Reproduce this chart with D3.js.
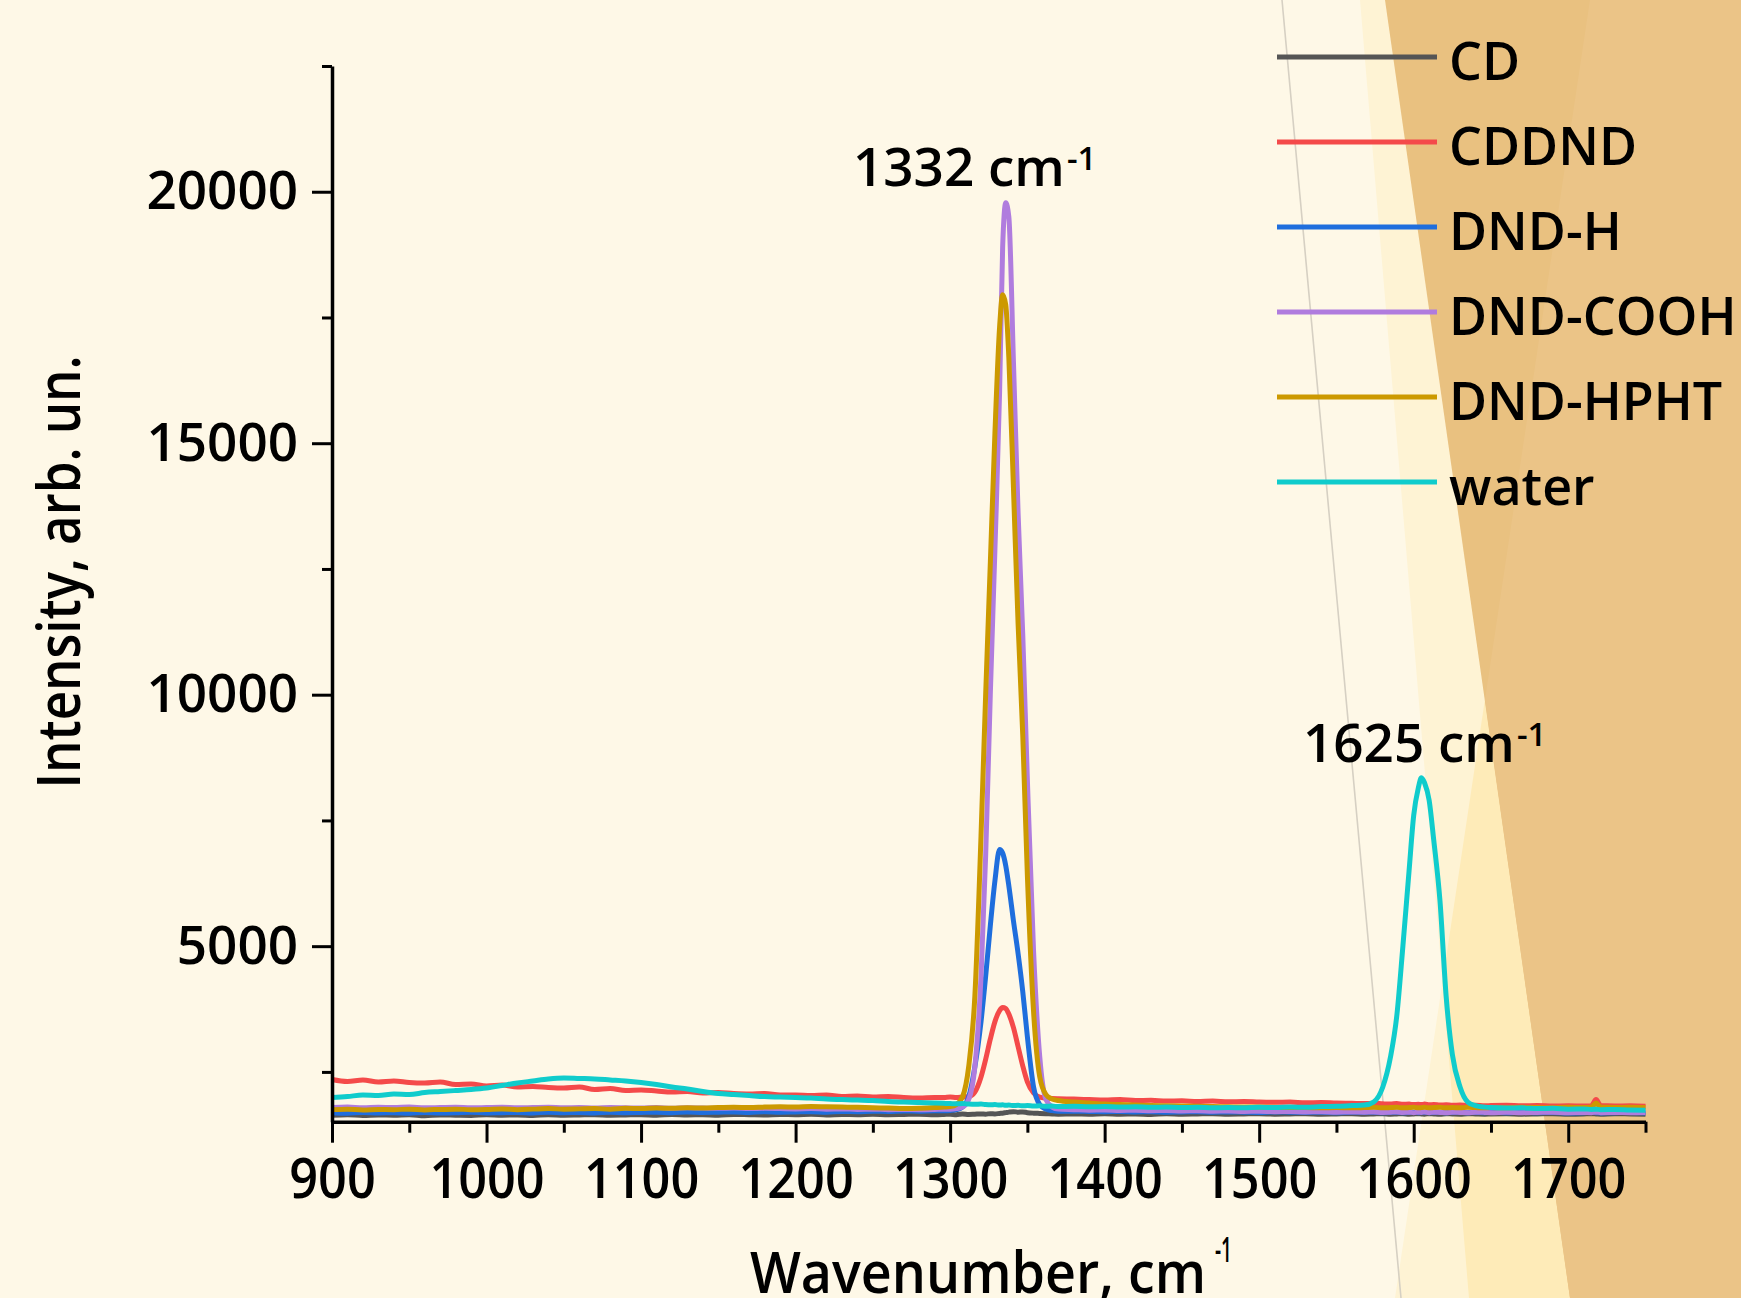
<!DOCTYPE html>
<html>
<head>
<meta charset="utf-8">
<script src="https://cdn.jsdelivr.net/npm/d3@7"></script>
<style>
  body { margin: 0; background: #fef8e7; }
  svg { display: block; font-family: "Open Sans", "Noto Sans", sans-serif; font-weight: 600; }
</style>
</head>
<body>
<script>
// wavenumber grid shared by all spectra (denser around the peaks)
var wavenumber = [
  900, 910, 920, 930, 940, 950, 960, 970, 980, 990, 1000, 1010, 1020, 1030, 1040, 1050, 1060, 1070, 1080, 1090,
  1100, 1110, 1120, 1130, 1140, 1150, 1160, 1170, 1180, 1190, 1200, 1210, 1220, 1230, 1240, 1250, 1260, 1270, 1280, 1290,
  1296, 1300, 1304, 1308, 1312, 1316, 1320, 1323, 1326, 1329, 1332, 1334, 1336, 1338, 1341, 1344, 1347, 1350, 1354, 1358, 1362, 1366, 1370,
  1380, 1390, 1400, 1410, 1420, 1430, 1440, 1450, 1460, 1470, 1480, 1490, 1500, 1510, 1520, 1530, 1540, 1550, 1560,
  1568, 1574, 1580, 1585, 1589, 1593, 1597, 1600, 1603, 1605, 1607, 1610, 1613, 1617, 1621, 1625, 1630, 1635, 1640, 1646,
  1650, 1660, 1670, 1680, 1690, 1700, 1710, 1715, 1718, 1721, 1730, 1740, 1750
];

var cd = [
  1640, 1650, 1635, 1645, 1640, 1650, 1630, 1645, 1640, 1635, 1650, 1640, 1645, 1635, 1650, 1640, 1645, 1650, 1640, 1645,
  1650, 1640, 1655, 1645, 1650, 1640, 1655, 1650, 1645, 1655, 1650, 1660, 1645, 1655, 1650, 1660, 1650, 1655, 1660, 1650,
  1655, 1660, 1650, 1665, 1655, 1660, 1665, 1660, 1670, 1665, 1675, 1680, 1690, 1700, 1710, 1700, 1705, 1690, 1680, 1675, 1670, 1665, 1660,
  1665, 1660, 1670, 1660, 1665, 1655, 1670, 1660, 1665, 1670, 1660, 1665, 1670, 1660, 1665, 1670, 1660, 1665, 1670,
  1660, 1665, 1670, 1660, 1665, 1670, 1660, 1665, 1670, 1665, 1660, 1670, 1665, 1660, 1670, 1665, 1660, 1670, 1665, 1660,
  1665, 1670, 1660, 1665, 1670, 1660, 1665, 1670, 1665, 1660, 1670, 1665, 1660
];

var cddnd = [
  2350, 2310, 2340, 2300, 2320, 2290, 2280, 2300, 2250, 2260, 2220, 2240, 2200, 2210, 2190, 2180, 2200, 2150, 2170, 2130,
  2140, 2120, 2100, 2110, 2080, 2090, 2070, 2060, 2070, 2040, 2040, 2030, 2040, 2010, 2020, 2000, 2010, 1990, 1980, 1990,
  1990, 2000, 1990, 2000, 2010, 2100, 2400, 2750, 3150, 3500, 3720, 3780, 3760, 3650, 3380, 3000, 2620, 2300, 2080, 2000, 1980, 1970, 1965,
  1960, 1950, 1940, 1950, 1930, 1935, 1920, 1925, 1910, 1920, 1905, 1910, 1900, 1895, 1900, 1885, 1890, 1880, 1875,
  1870, 1875, 1865, 1860, 1870, 1855, 1860, 1850, 1855, 1850, 1860, 1845, 1850, 1840, 1845, 1835, 1840, 1830, 1835, 1825,
  1830, 1835, 1825, 1830, 1820, 1825, 1820, 1830, 1950, 1830, 1820, 1825, 1815
];

var dndH = [
  1690, 1680, 1695, 1685, 1690, 1680, 1695, 1685, 1690, 1700, 1685, 1690, 1695, 1685, 1700, 1690, 1695, 1685, 1700, 1690,
  1695, 1700, 1690, 1705, 1695, 1700, 1705, 1695, 1710, 1700, 1705, 1710, 1700, 1715, 1710, 1720, 1715, 1725, 1720, 1730,
  1730, 1735, 1750, 1800, 2000, 2600, 3500, 4400, 5400, 6300, 6920, 6850, 6600, 6200, 5500, 4850, 4100, 3200, 2200, 1850, 1760, 1730, 1720,
  1720, 1715, 1710, 1715, 1705, 1710, 1700, 1705, 1710, 1700, 1705, 1700, 1695, 1705, 1700, 1695, 1700, 1690, 1700,
  1695, 1700, 1690, 1695, 1700, 1690, 1695, 1700, 1690, 1695, 1700, 1690, 1695, 1700, 1690, 1695, 1700, 1690, 1695, 1690,
  1695, 1690, 1700, 1690, 1695, 1685, 1690, 1695, 1690, 1685, 1690, 1695, 1685
];

var dndCOOH = [
  1790, 1800, 1785, 1795, 1790, 1800, 1785, 1790, 1795, 1785, 1790, 1795, 1785, 1790, 1795, 1785, 1790, 1780, 1790, 1785,
  1780, 1790, 1775, 1785, 1780, 1775, 1780, 1770, 1775, 1770, 1765, 1770, 1760, 1765, 1755, 1760, 1750, 1755, 1750, 1755,
  1760, 1760, 1770, 1800, 1950, 2600, 4400, 6800, 10000, 12900, 16000, 18900, 19780, 19500, 16600, 13600, 11200, 8300, 4900, 2800, 1950, 1800, 1760,
  1750, 1740, 1745, 1735, 1740, 1730, 1735, 1725, 1730, 1720, 1725, 1715, 1720, 1710, 1715, 1705, 1710, 1700, 1705,
  1700, 1705, 1695, 1700, 1705, 1695, 1700, 1690, 1700, 1695, 1705, 1690, 1700, 1695, 1690, 1700, 1695, 1690, 1700, 1695,
  1690, 1700, 1690, 1695, 1700, 1690, 1695, 1690, 1700, 1690, 1695, 1690, 1695
];

var dndHPHT = [
  1750, 1760, 1745, 1755, 1750, 1760, 1745, 1755, 1760, 1750, 1755, 1765, 1750, 1760, 1770, 1760, 1765, 1770, 1760, 1775,
  1770, 1780, 1775, 1785, 1780, 1790, 1795, 1790, 1800, 1805, 1800, 1810, 1805, 1800, 1795, 1785, 1780, 1770, 1775, 1790,
  1800, 1810, 1850, 2000, 2600, 4000, 7200, 10000, 12600, 15200, 17300, 17950, 17750, 16700, 14100, 11400, 9200, 6400, 3700, 2400, 2050, 1960, 1930,
  1900, 1880, 1860, 1850, 1840, 1830, 1825, 1820, 1815, 1810, 1805, 1800, 1800, 1795, 1790, 1790, 1785, 1790, 1785,
  1790, 1795, 1785, 1790, 1795, 1785, 1790, 1795, 1785, 1790, 1795, 1785, 1790, 1795, 1785, 1790, 1785, 1795, 1790, 1785,
  1790, 1785, 1795, 1790, 1785, 1795, 1790, 1800, 1880, 1800, 1790, 1795, 1790
];

var water = [
  1990, 2010, 2040, 2030, 2060, 2050, 2090, 2110, 2130, 2150, 2180, 2230, 2280, 2320, 2360, 2380, 2370, 2360, 2340, 2320,
  2290, 2250, 2200, 2160, 2110, 2070, 2050, 2030, 2010, 2000, 1990, 1980, 1960, 1950, 1940, 1930, 1910, 1900, 1890, 1880,
  1875, 1870, 1865, 1870, 1860, 1855, 1860, 1850, 1845, 1850, 1840, 1845, 1835, 1840, 1830, 1835, 1825, 1830, 1820, 1825, 1815, 1820, 1810,
  1815, 1805, 1810, 1800, 1805, 1795, 1800, 1790, 1795, 1785, 1790, 1785, 1795, 1790, 1800, 1795, 1810, 1815, 1830,
  1840, 1900, 2200, 2800, 3600, 5000, 6500, 7600, 8150, 8350, 8250, 7900, 7100, 5900, 4000, 2850, 2200, 1900, 1830, 1800,
  1790, 1780, 1785, 1770, 1775, 1760, 1765, 1755, 1760, 1750, 1755, 1745, 1740
];

var seriesNames = ["CD", "CDDND", "DND-H", "DND-COOH", "DND-HPHT", "water"];
var seriesValues = [cd, cddnd, dndH, dndCOOH, dndHPHT, water];
var seriesColors = ["#555555", "#f44a4a", "#1f6edd", "#b07cde", "#cc9900", "#10cccc"];

var xMajor = [900, 1000, 1100, 1200, 1300, 1400, 1500, 1600, 1700];
var xMinor = [950, 1050, 1150, 1250, 1350, 1450, 1550, 1650, 1750];
var yMajor = [5000, 10000, 15000, 20000];
var yMinor = [2500, 7500, 12500, 17500, 22500];

var peakLabels = [
  {text: "1332 cm", x: 853, y: 186},
  {text: "1625 cm", x: 1303, y: 762}
];

// set the dimensions and margins of the graph
var W = 1741, H = 1298;
var margin = {top: 66, right: 95.5, bottom: 176.3, left: 332},
    width = W - margin.left - margin.right,
    height = H - margin.top - margin.bottom;

// set the ranges
var x = d3.scaleLinear().domain([900, 1750]).range([0, width]);
var y = d3.scaleLinear().domain([1510, 22500]).range([height, 0]);

var root = d3.select("body").append("svg")
    .attr("width", W)
    .attr("height", H);

// decorative background
root.append("rect").attr("width", W).attr("height", H).attr("fill", "#fef8e7");
// line A: x = 1360 + 0.084y ; line B: x = 1590 - 0.1502y ; line C: x = 1385 + 0.1426y
var bg = root.append("g");
bg.append("polygon").attr("points", "1360,0 1741,0 1741,1298 1469,1298").attr("fill", "#fef3d4");
bg.append("polygon").attr("points", "1590,0 1741,0 1741,1298 1395,1298").attr("fill", "#fef3d4");
bg.append("polygon").attr("points", "1590,0 1741,0 1741,1298 1469,1298 1442.5,982").attr("fill", "#feebb8");
bg.append("polygon").attr("points", "1385,0 1741,0 1741,1298 1570,1298").attr("fill", "#e9c180");
bg.append("polygon").attr("points", "1590,0 1741,0 1741,1298 1570,1298 1485,700").attr("fill", "#ebc487");
bg.append("line").attr("x1", 1282).attr("y1", 0).attr("x2", 1401).attr("y2", 1298)
    .attr("stroke", "#d6d0c3").attr("stroke-width", 1.6);

var svg = root.append("g")
    .attr("transform", "translate(" + margin.left + "," + margin.top + ")");

// define the line
var valueline = d3.line()
    .curve(d3.curveMonotoneX)
    .x(function(d) { return x(d[0]); })
    .y(function(d) { return y(d[1]); });

seriesValues.forEach(function(vals, i) {
  var pts = wavenumber.map(function(w, j) { return [w, vals[j]]; });
  svg.append("path")
      .datum(pts)
      .attr("fill", "none")
      .attr("stroke", seriesColors[i])
      .attr("stroke-width", 5)
      .attr("stroke-linejoin", "round")
      .attr("d", valueline);
});

// axes
var xAxis = svg.append("g")
    .attr("transform", "translate(0," + height + ")")
    .call(d3.axisBottom(x).tickValues(xMajor).tickSize(21).tickSizeOuter(0).tickPadding(16).tickFormat(d3.format("d")));
svg.append("g")
    .attr("transform", "translate(0," + height + ")")
    .call(d3.axisBottom(x).tickValues(xMinor).tickSize(11).tickSizeOuter(0).tickFormat(""))
    .select(".domain").remove();

var yAxis = svg.append("g")
    .call(d3.axisLeft(y).tickValues(yMajor).tickSize(20).tickSizeOuter(0).tickPadding(14).tickFormat(d3.format("d")));
svg.append("g")
    .call(d3.axisLeft(y).tickValues(yMinor).tickSize(10).tickSizeOuter(0).tickFormat(""))
    .select(".domain").remove();

svg.selectAll(".domain").attr("stroke", "#000").attr("stroke-width", 3.5);
svg.selectAll(".tick line").attr("stroke", "#000").attr("stroke-width", 3);

// d3 axes put font-family="sans-serif" on their group; drop it so the svg font applies
xAxis.attr("font-family", null).attr("font-size", null);
yAxis.attr("font-family", null).attr("font-size", null);

xAxis.selectAll("text")
    .attr("fill", "#000")
    .style("font-size", "56px")
    .attr("transform", "scale(0.9,1)");
yAxis.selectAll("text")
    .attr("fill", "#000")
    .style("font-size", "53px");

// text label for the y axis
root.append("text")
    .attr("transform", "translate(80,572) rotate(-90)")
    .attr("text-anchor", "middle")
    .attr("textLength", 433)
    .attr("lengthAdjust", "spacingAndGlyphs")
    .style("font-size", "60px")
    .text("Intensity, arb. un.");

// text label for the x axis
root.append("text")
    .attr("x", 750).attr("y", 1293)
    .attr("textLength", 456)
    .attr("lengthAdjust", "spacingAndGlyphs")
    .style("font-size", "58px")
    .text("Wavenumber, cm");
root.append("text")
    .attr("x", 1215).attr("y", 1262)
    .attr("textLength", 17)
    .attr("lengthAdjust", "spacingAndGlyphs")
    .style("font-size", "34px")
    .text("-1");

// peak annotations
peakLabels.forEach(function(p) {
  var t = root.append("text")
      .attr("x", p.x).attr("y", p.y)
      .style("font-size", "53px")
      .text(p.text);
  var w = t.node().getComputedTextLength();
  root.append("text")
      .attr("x", p.x + w + 2).attr("y", p.y - 16)
      .style("font-size", "33px")
      .text("-1");
});

// legend
var legend = root.append("g");
seriesNames.forEach(function(name, i) {
  var ly = 57 + 85 * i;
  legend.append("line")
      .attr("x1", 1277).attr("x2", 1437)
      .attr("y1", ly).attr("y2", ly)
      .attr("stroke", seriesColors[i])
      .attr("stroke-width", 5);
  legend.append("text")
      .attr("x", 1449).attr("y", ly + 23)
      .style("font-size", "52px")
      .text(name);
});
</script>
</body>
</html>
